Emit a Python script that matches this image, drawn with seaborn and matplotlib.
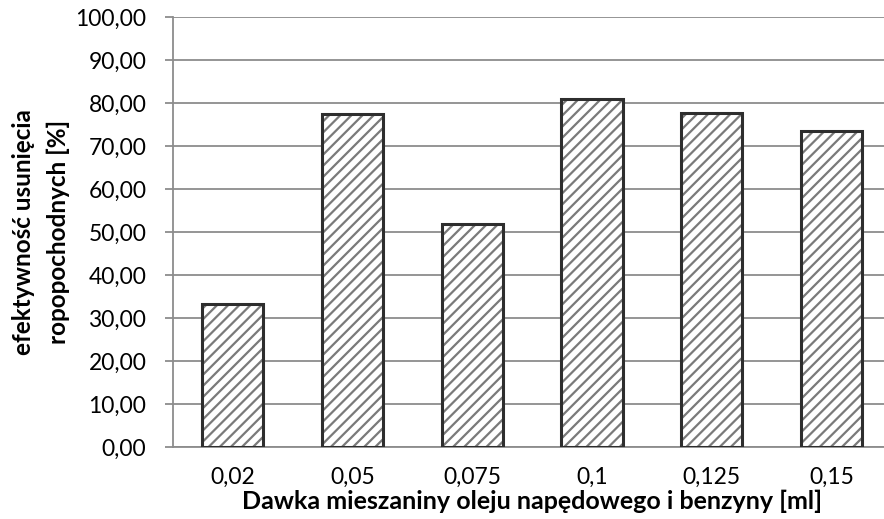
import matplotlib
matplotlib.use("Agg")
import matplotlib.pyplot as plt
import matplotlib.patches as mpatches
from matplotlib.ticker import FuncFormatter, MultipleLocator
import seaborn as sns
import pandas as pd

# Dose of diesel/petrol mixture [ml] and removal efficiency [%]
doses = ["0,02", "0,05", "0,075", "0,1", "0,125", "0,15"]
efficiency = [33.2, 77.4, 51.9, 81.0, 77.7, 73.4]

x_label = "Dawka mieszaniny oleju napędowego i benzyny [ml]"
y_label = "efektywność usunięcia\nropopochodnych [%]"

sns.set_theme(style="white")
plt.rcParams["font.family"] = ["Lato", "DejaVu Sans"]
plt.rcParams["hatch.linewidth"] = 1.6

df = pd.DataFrame({"dose": doses, "eff": efficiency})

fig = plt.figure(figsize=(8.84, 5.19), dpi=100)
# plot area runs slightly past the right edge of the canvas
ax = fig.add_axes([0.1953, 0.1387, 0.8133, 0.8283])

sns.barplot(data=df, x="dose", y="eff", order=doses, color="white",
            width=0.51, ax=ax, zorder=3)

# hatched fill, then a dark outline on top
for p in list(ax.patches):
    p.set_hatch("///")
    p.set_edgecolor("#7a7a7a")
    p.set_linewidth(0)
    p.set_facecolor("white")
    ax.add_patch(mpatches.Rectangle(p.get_xy(), p.get_width(), p.get_height(),
                                    fill=False, edgecolor="#2e2e2e",
                                    linewidth=2.2, zorder=4))

ax.set_ylim(0, 100)
ax.set_xlim(-0.5, len(doses) - 0.5)
ax.yaxis.set_major_locator(MultipleLocator(10))
ax.yaxis.set_major_formatter(FuncFormatter(lambda v, _: f"{v:.2f}".replace(".", ",")))

grid_col = "#8c8c8c"
ax.yaxis.grid(True, color=grid_col, linewidth=1.3, zorder=0)
ax.set_axisbelow(True)
for side in ("top", "right"):
    ax.spines[side].set_visible(False)
for side in ("left", "bottom"):
    ax.spines[side].set_color(grid_col)
    ax.spines[side].set_linewidth(1.3)

ax.tick_params(axis="y", length=6, width=1.3, color=grid_col, pad=13,
               labelsize=16.5, labelcolor="black", left=True)
ax.tick_params(axis="x", length=0, pad=14, labelsize=16.5, labelcolor="black")

ax.set_xlabel(x_label, fontsize=18, fontweight="bold", color="black")
ax.xaxis.set_label_coords(0.5, -0.098)
ax.set_ylabel(y_label, fontsize=17.5, fontweight="bold", color="black",
              linespacing=1.6)
ax.yaxis.set_label_coords(-0.143, 0.5)

fig.savefig("out.png", dpi=100)
